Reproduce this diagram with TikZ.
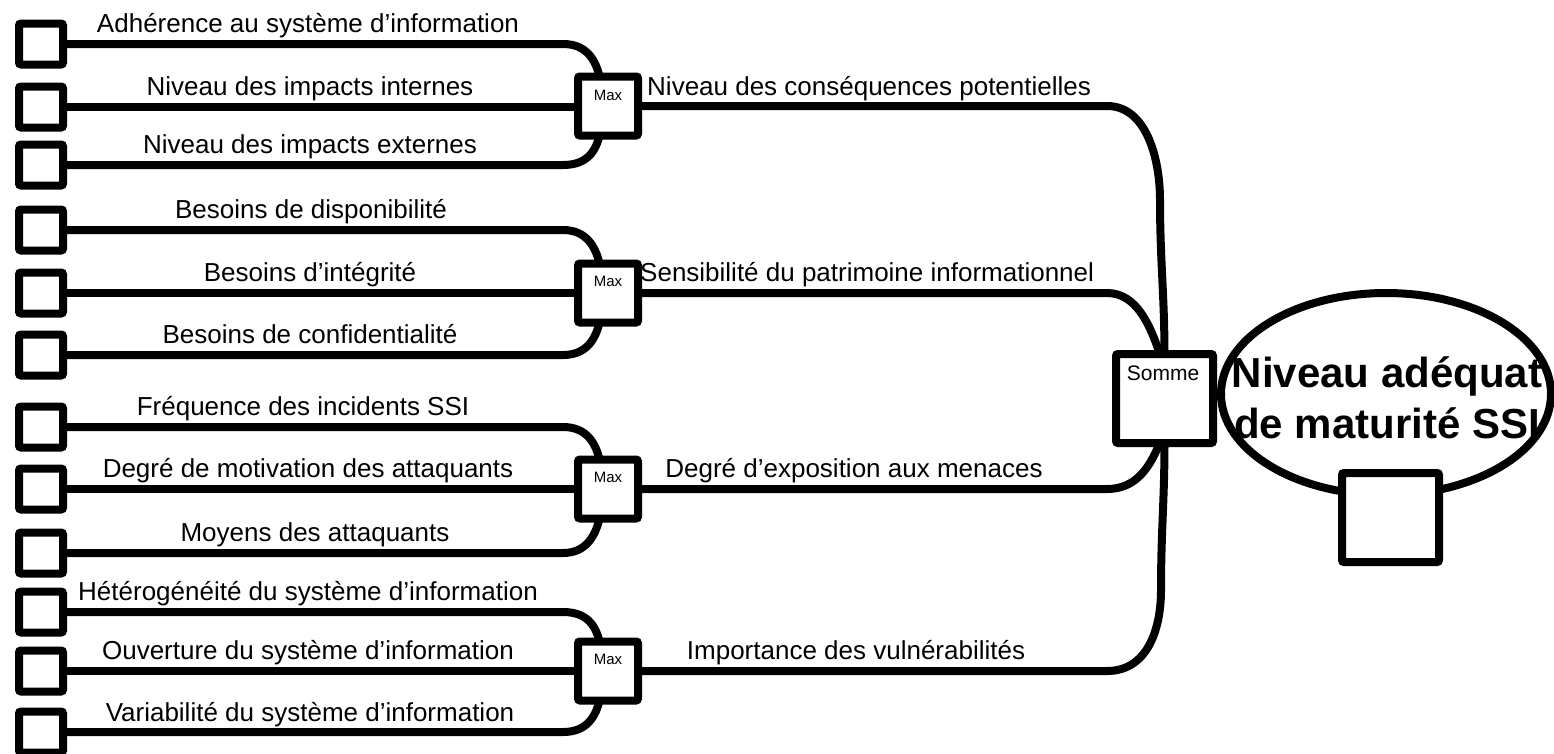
\documentclass[tikz,border=0pt]{standalone}
\usepackage{fontspec}
\setmainfont{Liberation Sans}
\usetikzlibrary{shapes.geometric,backgrounds,calc}
\begin{document}
\begin{tikzpicture}[x=1pt,y=-1pt,
  conn/.style={line width=8pt},
  inbox/.style={draw,line width=8pt,fill=white,minimum width=44pt,minimum height=41pt,inner sep=0pt,rounded corners=2pt},
  maxbox/.style={draw,line width=8pt,fill=white,minimum width=60pt,minimum height=59pt,inner sep=0pt,rounded corners=2pt},
  bigbox/.style={draw,line width=8pt,fill=white,minimum width=97pt,minimum height=89pt,inner sep=0pt,rounded corners=2pt},
  lab/.style={font=\fontsize{26}{26}\selectfont,anchor=base,inner sep=0pt},
  rlab/.style={font=\fontsize{26}{26}\selectfont,anchor=base west,inner sep=0pt},
  small/.style={font=\fontsize{15}{15}\selectfont,inner sep=0pt},
  somtxt/.style={font=\fontsize{21}{21}\selectfont,inner sep=0pt},
  bigtxt/.style={font=\fontsize{42}{42}\selectfont\bfseries,anchor=base,inner sep=0pt},
]
\useasboundingbox (0,0) rectangle (1554,753);

% input boxes
\node[inbox] (l1) at (41,44) {};
\node[inbox] (l2) at (41,107) {};
\node[inbox] (l3) at (41,165) {};
\node[inbox] (l4) at (41,230) {};
\node[inbox] (l5) at (41,293) {};
\node[inbox] (l6) at (41,355) {};
\node[inbox] (l7) at (41,427) {};
\node[inbox] (l8) at (41,489) {};
\node[inbox] (l9) at (41,553) {};
\node[inbox] (l10) at (41,612) {};
\node[inbox] (l11) at (41,671) {};
\node[inbox] (l12) at (41,732) {};

% max boxes
\node[maxbox] (m1) at (608,106) {};
\node[maxbox] (m2) at (608,293) {};
\node[maxbox] (m3) at (608,489) {};
\node[maxbox] (m4) at (608,671) {};
\node[small] (mx1) at ($(m1)+(0,-11)$) {Max};
\node[small] (mx2) at ($(m2)+(0,-12)$) {Max};
\node[small] (mx3) at ($(m3)+(0,-12)$) {Max};
\node[small] (mx4) at ($(m4)+(0,-12)$) {Max};

% somme
\node[bigbox] (s) at (1164.5,398.5) {};
\node[somtxt] (st) at (1163,373) {Somme};

% result
\node[draw,ellipse,line width=8pt,minimum width=330pt,minimum height=202pt,inner sep=0pt] (e) at (1386,394) {};
\node[bigbox] (q) at (1390.5,517.5) {};
\node[bigtxt] (e1) at (1387,387) {Niveau adéquat};
\node[bigtxt] (e2) at (1387,438) {de maturité SSI};

% labels
\node[lab] (t1) at (308,32) {Adhérence au système d’information};
\node[lab] (t2) at (310,95) {Niveau des impacts internes};
\node[lab] (t3) at (310,153) {Niveau des impacts externes};
\node[lab] (t4) at (311,218) {Besoins de disponibilité};
\node[lab] (t5) at (310,281) {Besoins d’intégrité};
\node[lab] (t6) at (310,343) {Besoins de confidentialité};
\node[lab] (t7) at (303,415) {Fréquence des incidents SSI};
\node[lab] (t8) at (308,477) {Degré de motivation des attaquants};
\node[lab] (t9) at (315,541) {Moyens des attaquants};
\node[lab] (t10) at (308,600) {Hétérogénéité du système d’information};
\node[lab] (t11) at (308,659) {Ouverture du système d’information};
\node[lab] (t12) at (310,721) {Variabilité du système d’information};
\node[rlab] (r1) at (647,95) {Niveau des conséquences potentielles};
\node[rlab] (r2) at (640,281) {Sensibilité du patrimoine informationnel};
\node[lab] (r3) at (854,477) {Degré d’exposition aux menaces};
\node[lab] (r4) at (856,659) {Importance des vulnérabilités};

\coordinate (bx) at (563,0);
\coordinate (rx) at (1107,0);

\begin{scope}[on background layer]
% group 1
\draw[conn] (l1.east) -- (l1.east -| bx) .. controls +(24,0) and +(-4,-18) .. ([xshift=-8pt,yshift=-6pt]m1.north);
\draw[conn] (l2.east) -- (l2.east -| m1.west);
\draw[conn] (l3.east) -- (l3.east -| bx) .. controls +(24,0) and +(-4,18) .. ([xshift=-8pt,yshift=6pt]m1.south);
% group 2
\draw[conn] (l4.east) -- (l4.east -| bx) .. controls +(24,0) and +(-4,-18) .. ([xshift=-8pt,yshift=-6pt]m2.north);
\draw[conn] (l5.east) -- (l5.east -| m2.west);
\draw[conn] (l6.east) -- (l6.east -| bx) .. controls +(24,0) and +(-4,18) .. ([xshift=-8pt,yshift=6pt]m2.south);
% group 3
\draw[conn] (l7.east) -- (l7.east -| bx) .. controls +(24,0) and +(-4,-18) .. ([xshift=-8pt,yshift=-6pt]m3.north);
\draw[conn] (l8.east) -- (l8.east -| m3.west);
\draw[conn] (l9.east) -- (l9.east -| bx) .. controls +(24,0) and +(-4,18) .. ([xshift=-8pt,yshift=6pt]m3.south);
% group 4
\draw[conn] (l10.east) -- (l10.east -| bx) .. controls +(24,0) and +(-4,-18) .. ([xshift=-8pt,yshift=-6pt]m4.north);
\draw[conn] (l11.east) -- (l11.east -| m4.west);
\draw[conn] (l12.east) -- (l12.east -| bx) .. controls +(24,0) and +(-4,18) .. ([xshift=-8pt,yshift=6pt]m4.south);
% to somme
\draw[conn] (m1.east) -- (m1.east -| rx) .. controls +(40,0) and +(0,-40) .. (1160,200) .. controls +(0,60) and +(0,-60) .. ([yshift=-6pt]s.north);
\draw[conn] (m2.east) -- (m2.east -| rx) .. controls +(30,0) and +(-10,-30) .. ([xshift=-4pt,yshift=-6pt]s.north);
\draw[conn] (m3.east) -- (m3.east -| rx) .. controls +(30,0) and +(-10,25) .. ([xshift=-4pt,yshift=6pt]s.south);
\draw[conn] (m4.east) -- (m4.east -| rx) .. controls +(40,0) and +(0,40) .. (1161,590) .. controls +(0,-60) and +(0,60) .. ([yshift=6pt]s.south);
\end{scope}
\end{tikzpicture}
\end{document}
